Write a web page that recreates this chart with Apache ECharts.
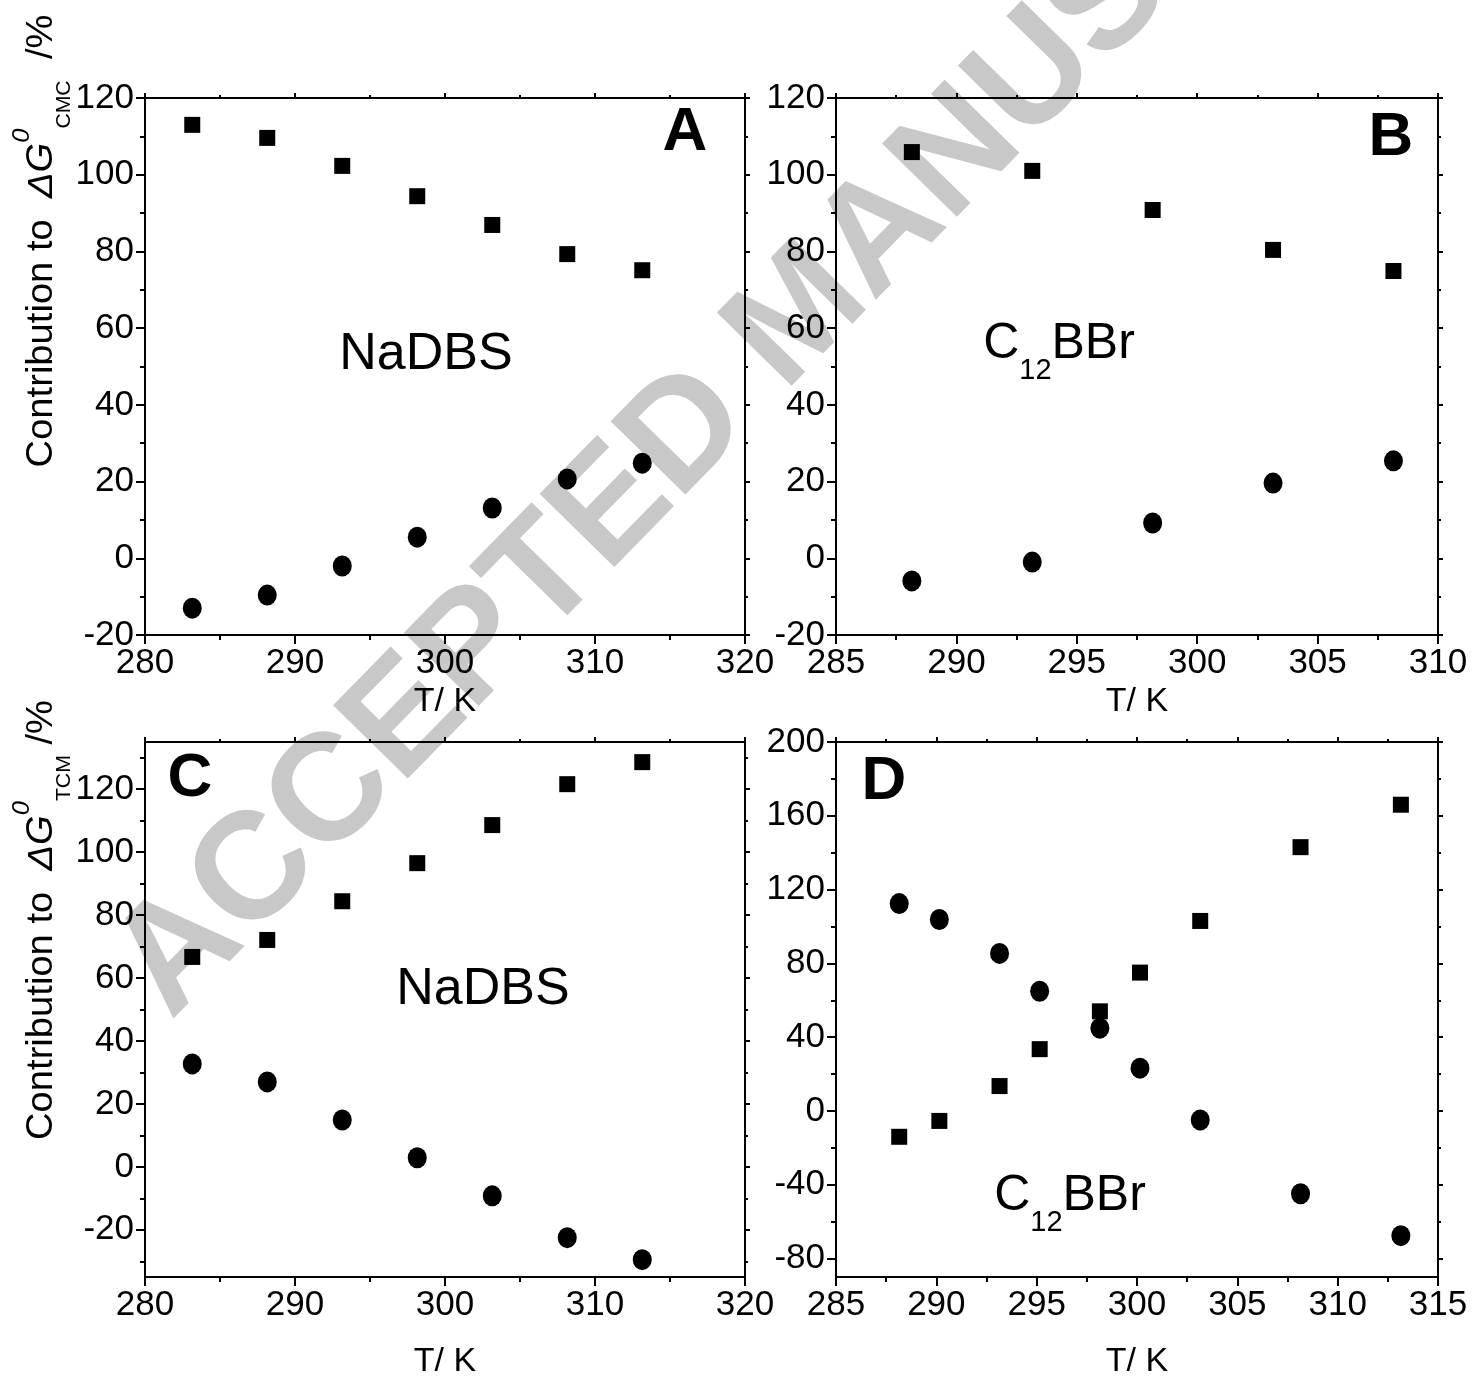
<!DOCTYPE html>
<html>
<head>
<meta charset="utf-8">
<script src="https://cdn.jsdelivr.net/npm/echarts@6/dist/echarts.min.js"></script>
<style>
  html, body { margin: 0; padding: 0; background: #fff; }
  #main { width: 1472px; height: 1381px; }
</style>
</head>
<body>
<div id="main"></div>
<script>
// temperatures (K)
var tA = [283.15, 288.15, 293.15, 298.15, 303.15, 308.15, 313.15];
var tB = [288.15, 293.15, 298.15, 303.15, 308.15];
var tC = [283.15, 288.15, 293.15, 298.15, 303.15, 308.15, 313.15];
var tD = [288.15, 290.15, 293.15, 295.15, 298.15, 300.15, 303.15, 308.15, 313.15];

// contributions (%) - squares / circles
var aSq = [113.0, 109.6, 102.3, 94.4, 86.9, 79.3, 75.1];
var aCi = [-13.0, -9.6, -2.0, 5.5, 13.1, 20.7, 24.8];
var bSq = [105.9, 101.0, 90.8, 80.4, 74.9];
var bCi = [-5.9, -1.0, 9.2, 19.6, 25.4];
var cSq = [66.7, 72.1, 84.4, 96.5, 108.6, 121.6, 128.6];
var cCi = [32.7, 27.0, 14.9, 2.9, -9.2, -22.5, -29.5];
var dSq = [-14.0, -5.4, 13.5, 33.5, 54.0, 75.0, 103.0, 143.0, 166.0];
var dCi = [112.4, 103.8, 85.4, 64.9, 44.9, 23.2, -4.9, -44.9, -67.6];

// tick labels
var xMajAC = [280, 290, 300, 310, 320];
var xMinAC = [285, 295, 305, 315];
var xMajB = [285, 290, 295, 300, 305, 310];
var xMinB = [287.5, 292.5, 297.5, 302.5, 307.5];
var xMajD = [285, 290, 295, 300, 305, 310, 315];
var xMinD = [287.5, 292.5, 297.5, 302.5, 307.5, 312.5];
var yMajAB = [-20, 0, 20, 40, 60, 80, 100, 120];
var yMinAB = [-10, 10, 30, 50, 70, 90, 110];
var yMajC = [-20, 0, 20, 40, 60, 80, 100, 120];
var yMinC = [-30, -10, 10, 30, 50, 70, 90, 110, 130];
var yMajD = [-80, -40, 0, 40, 80, 120, 160, 200];
var yMinD = [-60, -20, 20, 60, 100, 140, 180];

var FONT = 'Liberation Sans';

function zip(xs, ys){
	var out = [];
	for(var i=0;i<xs.length;i++){ out.push([xs[i], ys[i]]); }
	return out;
}

// main side with labels + minor overlay, mirror side + its minor overlay
function axisSet(dim, grid, min, max, major, minor, name, nameGap){
	var sides = dim === 'x' ? ['bottom', 'top'] : ['left', 'right'];
	var list = [];
	for(var s=0;s<2;s++){
		list.push({
			type:'value', gridIndex:grid, position:sides[s], min:min, max:max,
			axisLine:{show:true, onZero:false, lineStyle:{color:'#000', width:2}},
			axisTick:{show:true, inside:false, length:s===0?9:5, customValues:major, lineStyle:{color:'#000', width:2}},
			axisLabel:{show:s===0, customValues:major, color:'#000', fontFamily:FONT, fontSize:35, margin:11},
			splitLine:{show:false},
			name:s===0?name:'', nameLocation:'middle', nameGap:nameGap,
			nameTextStyle:{color:'#000', fontFamily:FONT, fontSize:34}
		});
		list.push({
			type:'value', gridIndex:grid, position:sides[s], min:min, max:max,
			axisLine:{show:false, onZero:false},
			axisTick:{show:true, inside:false, length:s===0?5:3, customValues:minor, lineStyle:{color:'#000', width:2}},
			axisLabel:{show:false},
			splitLine:{show:false}
		});
	}
	return list;
}

function pts(grid, xy, shape){
	return {
		type:'scatter', xAxisIndex:grid*4, yAxisIndex:grid*4,
		symbol:shape, symbolSize:shape==='rect'?[16,16]:[19,21],
		itemStyle:{color:'#000', opacity:1}, data:xy, z:5
	};
}

var xAxes = [].concat(
	axisSet('x', 0, 280, 320, xMajAC, xMinAC, 'T/ K', 50),
	axisSet('x', 1, 285, 310, xMajB, xMinB, 'T/ K', 50),
	axisSet('x', 2, 280, 320, xMajAC, xMinAC, 'T/ K', 68),
	axisSet('x', 3, 285, 315, xMajD, xMinD, 'T/ K', 68)
);
var yAxes = [].concat(
	axisSet('y', 0, -20, 120, yMajAB, yMinAB, '', 0),
	axisSet('y', 1, -20, 120, yMajAB, yMinAB, '', 0),
	axisSet('y', 2, -35, 135, yMajC, yMinC, '', 0),
	axisSet('y', 3, -90, 200, yMajD, yMinD, '', 0)
);

var titleRich = {
	n:{fontFamily:FONT, fontSize:36, lineHeight:64, fill:'#000'},
	i:{fontFamily:FONT, fontSize:36, fontStyle:'italic', lineHeight:64, fill:'#000'},
	sp:{fontFamily:FONT, fontSize:24, fontStyle:'italic', lineHeight:24, verticalAlign:'top', fill:'#000'},
	sb:{fontFamily:FONT, fontSize:20, lineHeight:20, verticalAlign:'bottom', fill:'#000'}
};
var nameRich = {
	n:{fontFamily:FONT, fontSize:50, lineHeight:82, fill:'#000'},
	sb:{fontFamily:FONT, fontSize:29, lineHeight:29, verticalAlign:'bottom', fill:'#000'}
};

function label(x, y, txt, size, bold){
	return {type:'text', x:x, y:y, z:20, style:{text:txt, fontFamily:FONT, fontSize:size, fontWeight:bold?'bold':'normal', fill:'#000', align:'center', verticalAlign:'middle'}};
}
function richLabel(x, y, txt, rich, rot, sx){
	return {type:'text', x:x, y:y, z:20, rotation:rot||0, scaleX:sx||1, style:{text:txt, rich:rich, align:'center', verticalAlign:'middle'}};
}

var option = {
	backgroundColor:'#fff',
	animation:false,
	grid:[
		{left:145, top:98, width:600, height:537},
		{left:836, top:98, width:602, height:537},
		{left:145, top:742, width:600, height:535},
		{left:836, top:742, width:602, height:535}
	],
	xAxis:xAxes,
	yAxis:yAxes,
	graphic:[
		{type:'text', x:195, y:1045, z:-1, rotation:0.797,
		 style:{text:'ACCEPTED MANUSCRIPT', fontFamily:FONT, fontSize:152, fontWeight:'bold', fill:'#c8c8c8', align:'left', verticalAlign:'bottom'}},
		label(685, 133, 'A', 62, true),
		label(1391, 138, 'B', 62, true),
		label(190, 779, 'C', 62, true),
		label(884, 782, 'D', 62, true),
		label(426, 355, 'NaDBS', 52, false),
		label(483, 990, 'NaDBS', 52, false),
		richLabel(1059, 344, '{n|C}{sb|12}{n|BBr}', nameRich),
		richLabel(1070, 1196, '{n|C}{sb|12}{n|BBr}', nameRich),
		richLabel(42, 241, '{n|Contribution to  }{i|ΔG}{sp|0}{sb|CMC}{n|  /%}', titleRich, Math.PI/2, 1.06),
		richLabel(42, 920, '{n|Contribution to  }{i|ΔG}{sp|0}{sb|TCM}{n| /%}', titleRich, Math.PI/2, 1.06)
	],
	series:[
		pts(0, zip(tA, aSq), 'rect'), pts(0, zip(tA, aCi), 'circle'),
		pts(1, zip(tB, bSq), 'rect'), pts(1, zip(tB, bCi), 'circle'),
		pts(2, zip(tC, cSq), 'rect'), pts(2, zip(tC, cCi), 'circle'),
		pts(3, zip(tD, dSq), 'rect'), pts(3, zip(tD, dCi), 'circle')
	]
};

var chart = echarts.init(document.getElementById('main'));
chart.setOption(option);
</script>
</body>
</html>
